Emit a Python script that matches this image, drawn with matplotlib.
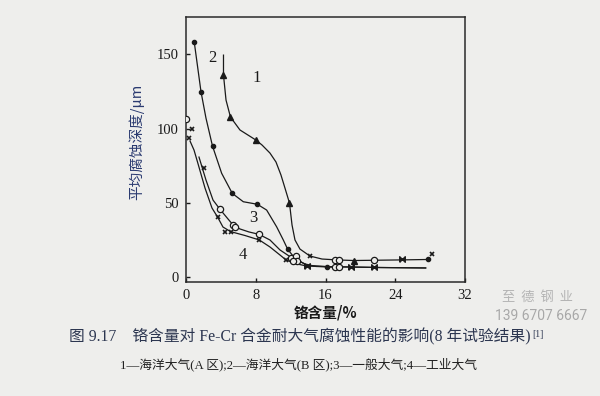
import matplotlib
matplotlib.use('Agg')
import matplotlib.pyplot as plt

# curve lines (Cr content %, mean corrosion depth um)
c1_x = [4.30, 4.30, 4.59, 5.10, 6.19, 8.03, 8.72, 9.63, 10.32, 10.89, 11.35, 11.87, 12.16, 12.50, 13.07, 14.22, 15.60, 17.32, 19.27, 24.54, 27.75]
c1_y = [149.4, 136.0, 119.2, 107.8, 99.1, 92.3, 89.0, 83.6, 77.6, 68.9, 60.1, 50.0, 35.3, 25.2, 19.1, 14.4, 12.4, 11.8, 11.4, 11.8, 12.1]

c2_x = [0.95, 1.72, 2.29, 3.04, 4.09, 5.31, 6.57, 8.18, 9.25, 10.40, 11.16, 11.66, 12.50, 13.88, 16.17, 22.25, 27.49]
c2_y = [158.0, 124.8, 107.1, 88.3, 70.0, 56.5, 50.9, 49.2, 45.3, 34.0, 25.2, 19.0, 12.8, 8.1, 7.3, 6.7, 6.4]

c3_x = [1.49, 2.29, 3.10, 3.90, 4.82, 5.50, 6.19, 7.22, 8.37, 9.63, 10.78, 11.93, 12.50, 13.65, 14.91, 17.66]
c3_y = [80.9, 65.5, 52.0, 45.8, 39.3, 34.6, 32.6, 30.6, 29.0, 25.2, 18.5, 14.0, 12.4, 9.1, 7.4, 6.9]

c4_x = [0.46, 0.92, 1.32, 2.18, 2.98, 3.64, 4.24, 5.13, 6.77, 8.41, 9.63, 10.78, 11.47, 12.50, 13.84, 16.17, 22.25, 27.49]
c4_y = [91.7, 85.6, 77.6, 60.1, 46.7, 40.4, 33.9, 30.8, 28.2, 25.2, 20.5, 15.1, 11.8, 9.4, 7.7, 7.3, 6.7, 6.4]

# measured points by symbol
tri_x = [4.30, 5.10, 8.03, 11.87, 19.27]
tri_y = [136.0, 107.8, 92.3, 50.0, 11.4]

dot_x = [0.95, 1.72, 3.04, 5.31, 8.18, 11.66, 16.17, 27.75]
dot_y = [158.0, 124.8, 88.3, 56.5, 49.2, 19.0, 7.3, 12.1]

circ_x = [0.0, 3.90, 5.42, 5.65, 8.37, 12.10, 12.56, 12.73, 12.27, 17.09, 17.55, 21.56, 17.09, 17.55]
circ_y = [106.2, 45.8, 35.3, 33.7, 29.0, 13.4, 14.4, 11.4, 11.1, 11.6, 11.6, 11.6, 6.9, 6.9]

cross_x = [0.65, 0.38, 2.06, 3.64, 4.47, 5.13, 8.41, 11.47, 14.22, 28.18]
cross_y = [99.7, 93.5, 73.3, 40.4, 30.8, 30.8, 25.2, 11.8, 14.4, 15.8]

bow_x = [13.84, 18.89, 21.56, 24.74]
bow_y = [7.7, 6.9, 6.9, 12.2]

labels = ['1', '2', '3', '4']
label_x = [8.14, 2.98, 7.68, 6.54]
label_y = [134.0, 147.4, 40.0, 15.1]

x_ticks = [0, 8, 16, 24, 32]
y_ticks = [0, 50, 100, 150]

bg = '#eeeeec'
serif = ['Liberation Serif', 'Noto Sans CJK SC']
cjk = ['Noto Sans CJK SC', 'DejaVu Sans']

fig = plt.figure(figsize=(6, 3.96), dpi=100, facecolor=bg)
ax = fig.add_axes([0.31, 0.288, 0.465, 0.669])
ax.set_facecolor(bg)

for xs, ys in [(c1_x, c1_y), (c2_x, c2_y), (c3_x, c3_y), (c4_x, c4_y)]:
    ax.plot(xs, ys, color='#1a1a1a', lw=0.9, zorder=2)

ax.plot(tri_x, tri_y, ls='none', marker='^', ms=5, color='#1a1a1a', zorder=3)
ax.plot(dot_x, dot_y, ls='none', marker='o', ms=3, color='#1a1a1a', zorder=3)
ax.plot(circ_x, circ_y, ls='none', marker='o', ms=4.5, mfc=bg, mec='#1a1a1a', mew=0.9, zorder=3)
ax.plot(cross_x, cross_y, ls='none', marker='x', ms=3.5, mew=1.2, color='#1a1a1a', zorder=3)
bowtie = [(-1, -1), (-1, 1), (1, -1), (1, 1), (-1, -1)]
ax.plot(bow_x, bow_y, ls='none', marker=bowtie, ms=4, color='#1a1a1a', zorder=3)

for t, lx, ly in zip(labels, label_x, label_y):
    ax.text(lx, ly, t, fontsize=12, family=serif, color='#1a1a1a', ha='center', va='center')

ax.set_xlim(0, 32)
ax.set_ylim(-3, 175)
ax.set_xticks(x_ticks)
ax.set_yticks(y_ticks)
ax.tick_params(direction='in', length=3, width=1, labelsize=10.5, colors='#1a1a1a', pad=5)
for lab in ax.get_xticklabels() + ax.get_yticklabels():
    lab.set_family(serif)
for s in ax.spines.values():
    s.set_linewidth(1.1)
    s.set_color('#2a2a2a')

ax.set_xlabel('铬含量/%', family=cjk, fontsize=10.5, fontweight='bold', color='#1a1a1a', labelpad=2)
ax.set_ylabel('平均腐蚀深度/μm', family=cjk, fontsize=10.5, color='#2a3a70')
ax.yaxis.set_label_coords(-0.15, 0.53)

cap = fig.text(0.5, 1 - 337 / 396, '图 9.17    铬含量对 Fe-Cr 合金耐大气腐蚀性能的影响(8 年试验结果)',
               family=serif, fontsize=11.3, color='#2c3650', ha='center', va='center')
fig.text(0.497, 1 - 364 / 396, '1—海洋大气(A 区);2—海洋大气(B 区);3—一般大气;4—工业大气',
         family=serif, fontsize=9.2, color='#222222', ha='center', va='center')

fig.canvas.draw()
bb = cap.get_window_extent().transformed(fig.transFigure.inverted())
fig.text(bb.x1 + 0.002, bb.y1 - 0.005, '[1]', family=serif, fontsize=7, color='#2c3650', ha='left', va='top')

fig.text(537 / 600, 1 - 297 / 396, '至  德  钢  业', family=cjk, fontsize=9.5, color='#b4b4b4', ha='center', va='center')
fig.text(541 / 600, 1 - 316 / 396, '139 6707 6667', family=['Roboto', 'DejaVu Sans'], fontsize=10, color='#a8a8a8', ha='center', va='center')

fig.savefig('out.png', dpi=100, facecolor=bg)
